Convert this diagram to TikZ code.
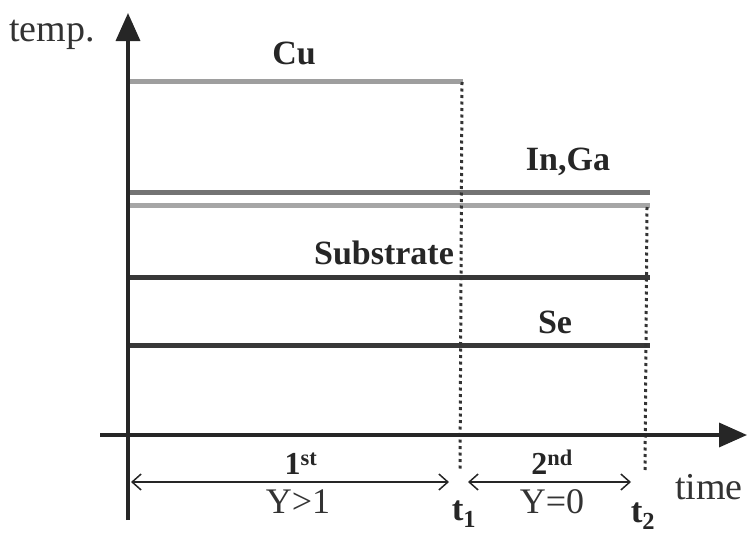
\documentclass[tikz,border=0pt]{standalone}
\usepackage{fontspec}
\setmainfont{Liberation Serif}
\usetikzlibrary{arrows.meta}
\begin{document}
\begin{tikzpicture}[x=1pt,y=-1pt,
  axis/.style={line width=3.5pt,draw=black!85,-{Triangle[length=28pt,width=24pt]}},
  level/.style={line width=5pt},
  guide/.style={line width=3pt,dash pattern=on 3pt off 3.5pt,draw=black!80},
  span/.style={line width=1.5pt,draw=black!85,{Straight Barb[length=9pt,width=16pt]}-{Straight Barb[length=9pt,width=16pt]}},
  lab/.style={font=\fontsize{34}{36}\selectfont\bfseries,text=black!85},
  big/.style={font=\fontsize{32}{34}\selectfont\bfseries,text=black!85},
  txt/.style={font=\fontsize{38}{40}\selectfont,text=black!80}]
\useasboundingbox (0,0) rectangle (751,538);
% coordinates
\coordinate (o) at (128,435);
\coordinate (ybot) at (128,520);
\coordinate (ytop) at (128,13);
\coordinate (xl) at (100,435);
\coordinate (xr) at (747,435);
% levels
\draw[level,draw=black!38] (130,81) -- (463,81);
\draw[level,draw=black!55] (130,192) -- (650,192);
\draw[level,draw=black!35] (130,205) -- (650,205);
\draw[level,draw=black!78] (130,277) -- (650,277);
\draw[level,draw=black!78] (130,345) -- (650,345);
% guides
\coordinate (t1top) at (462,82);
\coordinate (t1bot) at (460,470);
\coordinate (t2top) at (647,207);
\coordinate (t2bot) at (645,472);
\draw[guide] (t1top) -- (t1bot);
\draw[guide] (t2top) -- (t2bot);
% axes
\draw[axis] (ybot) -- (ytop);
\draw[axis] (xl) -- (xr);
% spans
\coordinate (s1a) at (131,482);
\coordinate (s1b) at (449,482);
\coordinate (s2a) at (468,482);
\coordinate (s2b) at (631,482);
\draw[span] (s1a) -- (s1b);
\draw[span] (s2a) -- (s2b);
% labels
\node[txt] (temp) at (52,35) {temp.};
\node[txt] (time) at (709,487) {time};
\node[lab] (cu) at (294,53) {Cu};
\node[lab] (inga) at (568,162) {In,Ga};
\node[lab] (sub) at (384,253) {Substrate};
\node[lab] (se) at (555,322) {Se};
\node[big] (first) at (301,464) {1\textsuperscript{st}};
\node[big] (second) at (552,462) {2\textsuperscript{nd}};
\node[txt,font=\fontsize{36}{38}\selectfont] (y1) at (298,502) {Y>1};
\node[txt,font=\fontsize{36}{38}\selectfont] (y0) at (552,502) {Y=0};
\node[big,font=\fontsize{35}{37}\selectfont\bfseries] (t1) at (464,514) {t\textsubscript{1}};
\node[big,font=\fontsize{35}{37}\selectfont\bfseries] (t2) at (643,516) {t\textsubscript{2}};
\end{tikzpicture}
\end{document}
